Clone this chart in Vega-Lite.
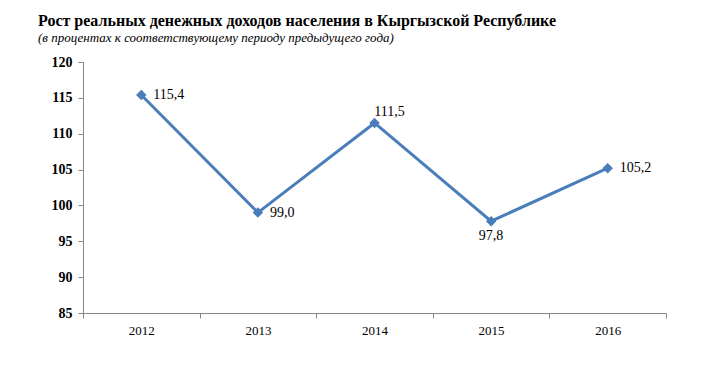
{
  "$schema": "https://vega.github.io/schema/vega-lite/v6.json",
  "autosize": {"type": "none"},
  "padding": {"left": 83, "top": 62, "right": 41, "bottom": 59},
  "width": 583,
  "height": 251,
  "background": "white",
  "title": {
    "text": "Рост реальных денежных доходов населения в Кыргызской Республике",
    "subtitle": "(в процентах к соответствующему периоду предыдущего года)",
    "anchor": "start",
    "frame": "group",
    "dx": -45,
    "dy": 3,
    "offset": 13,
    "font": "Liberation Serif",
    "fontSize": 16,
    "fontWeight": "bold",
    "color": "black",
    "subtitleFont": "Liberation Serif",
    "subtitleFontSize": 13,
    "subtitleFontStyle": "italic",
    "subtitleColor": "black",
    "subtitlePadding": 3
  },
  "config": {
    "locale": {"number": {"decimal": ",", "thousands": " ", "grouping": [3], "currency": ["", ""]}},
    "view": {"stroke": null},
    "axis": {"grid": false, "domainColor": "#868686", "tickColor": "#868686", "labelColor": "black", "title": null}
  },
  "data": {"values": [
    {"year": "2012", "value": 115.4},
    {"year": "2013", "value": 99.0},
    {"year": "2014", "value": 111.5},
    {"year": "2015", "value": 97.8},
    {"year": "2016", "value": 105.2}
  ]},
  "encoding": {
    "x": {"field": "year", "type": "ordinal", "scale": {"type": "band", "paddingInner": 0, "paddingOuter": 0},
      "axis": {"labelAngle": 0, "tickBand": "extent", "tickSize": 5, "labelFont": "Liberation Serif", "labelFontSize": 13, "labelPadding": 6}},
    "y": {"field": "value", "type": "quantitative", "scale": {"domain": [85, 120], "nice": false, "zero": false},
      "axis": {"values": [85, 90, 95, 100, 105, 110, 115, 120], "tickSize": 5, "labelFont": "Liberation Serif", "labelFontSize": 14, "labelFontWeight": "bold", "labelPadding": 6}}
  },
  "layer": [
    {"mark": {"type": "line", "color": "#4A7EBB", "strokeWidth": 3}},
    {"mark": {"type": "point", "shape": "diamond", "filled": true, "color": "#4A7EBB", "size": 110, "opacity": 1}},
    {"transform": [{"filter": "datum.year != '2014' && datum.year != '2015'"}],
      "mark": {"type": "text", "align": "left", "baseline": "middle", "dx": 12, "font": "Liberation Serif", "fontSize": 14, "color": "black"},
      "encoding": {"text": {"field": "value", "type": "quantitative", "format": ".1f"}}},
    {"transform": [{"filter": "datum.year == '2014'"}],
      "mark": {"type": "text", "align": "center", "baseline": "bottom", "dx": 15, "dy": -4, "font": "Liberation Serif", "fontSize": 14, "color": "black"},
      "encoding": {"text": {"field": "value", "type": "quantitative", "format": ".1f"}}},
    {"transform": [{"filter": "datum.year == '2015'"}],
      "mark": {"type": "text", "align": "center", "baseline": "top", "dx": 0, "dy": 8, "font": "Liberation Serif", "fontSize": 14, "color": "black"},
      "encoding": {"text": {"field": "value", "type": "quantitative", "format": ".1f"}}}
  ]
}
